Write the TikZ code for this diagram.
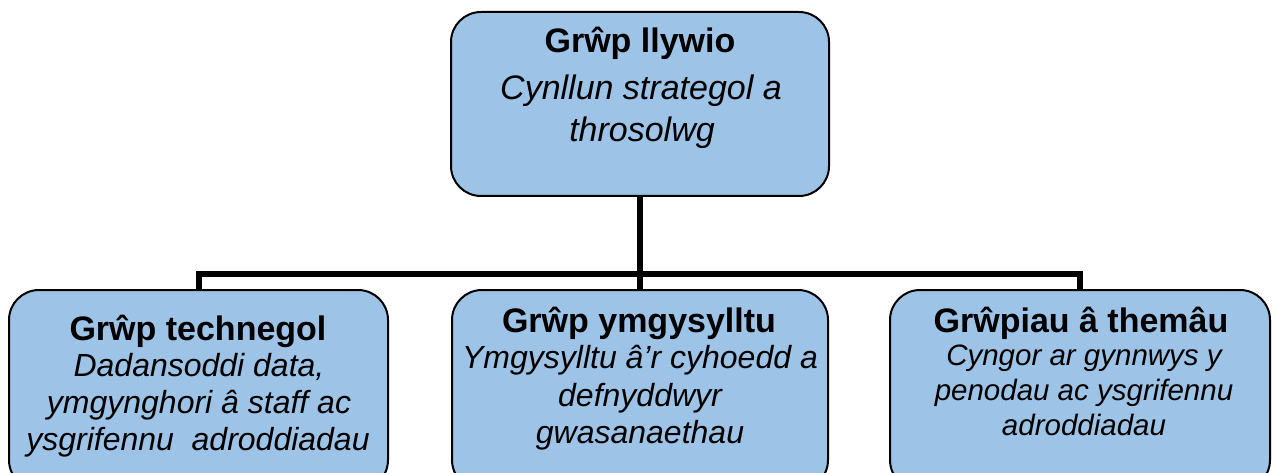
\documentclass[tikz,border=0pt]{standalone}
\usepackage{fontspec}
\setmainfont{Liberation Sans}
\definecolor{boxblue}{RGB}{157,195,230}
\begin{document}
\begin{tikzpicture}[x=1pt,y=-1pt,
  grpbox/.style={draw=black, line width=2pt, fill=boxblue, rounded corners=30pt,
    inner sep=0pt, outer sep=0pt},
  conn/.style={line width=6pt, black},
  ttl/.style={anchor=base, inner sep=0pt, font=\fontsize{34}{40}\selectfont\bfseries},
  bodyA/.style={anchor=base, inner sep=0pt, font=\fontsize{34}{40}\selectfont\itshape},
  bodyB/.style={anchor=base, inner sep=0pt, font=\fontsize{32}{37}\selectfont\itshape},
  bodyC/.style={anchor=base, inner sep=0pt, font=\fontsize{29.5}{34}\selectfont\itshape}]
\useasboundingbox (0,0) rectangle (1274,473);
\clip (0,0) rectangle (1274,473);
% boxes
\node[grpbox, minimum width=378pt, minimum height=184pt] (top) at (640,104) {};
\node[grpbox, minimum width=379pt, minimum height=200pt] (left) at (198.5,390) {};
\node[grpbox, minimum width=376pt, minimum height=200pt] (mid) at (640,390) {};
\node[grpbox, minimum width=380pt, minimum height=200pt] (right) at (1080,390) {};
% connectors
\coordinate (bus) at (640,274);
\draw[conn] (top.south) -- (bus);
\draw[conn] (left.north) |- (bus) -| (right.north);
\draw[conn] (bus) -- (mid.north);
% top texts
\node[ttl] (t1) at (640,53) {Grŵp llywio};
\node[bodyA] (t2) at (641,100) {Cynllun strategol a};
\node[bodyA] (t3) at (642,142) {throsolwg};
% left texts
\node[ttl] (l1) at (198,340) {Grŵp technegol};
\node[bodyB] (l2) at (199,376) {Dadansoddi data,};
\node[bodyB] (l3) at (199,413) {ymgynghori â staff ac};
\node[bodyB] (l4) at (198,450) {ysgrifennu\ \ adroddiadau};
% middle texts
\node[ttl] (m1) at (639,332) {Grŵp ymgysylltu};
\node[bodyB] (m2) at (640,368) {Ymgysylltu â’r cyhoedd a};
\node[bodyB] (m3) at (640,406) {defnyddwyr};
\node[bodyB] (m4) at (640,443) {gwasanaethau};
% right texts
\node[ttl] (r1) at (1081,332) {Grŵpiau â themâu};
\node[bodyC] (r2) at (1084,365) {Cyngor ar gynnwys y};
\node[bodyC] (r3) at (1084,400) {penodau ac ysgrifennu};
\node[bodyC] (r4) at (1084,435) {adroddiadau};
\end{tikzpicture}
\end{document}
